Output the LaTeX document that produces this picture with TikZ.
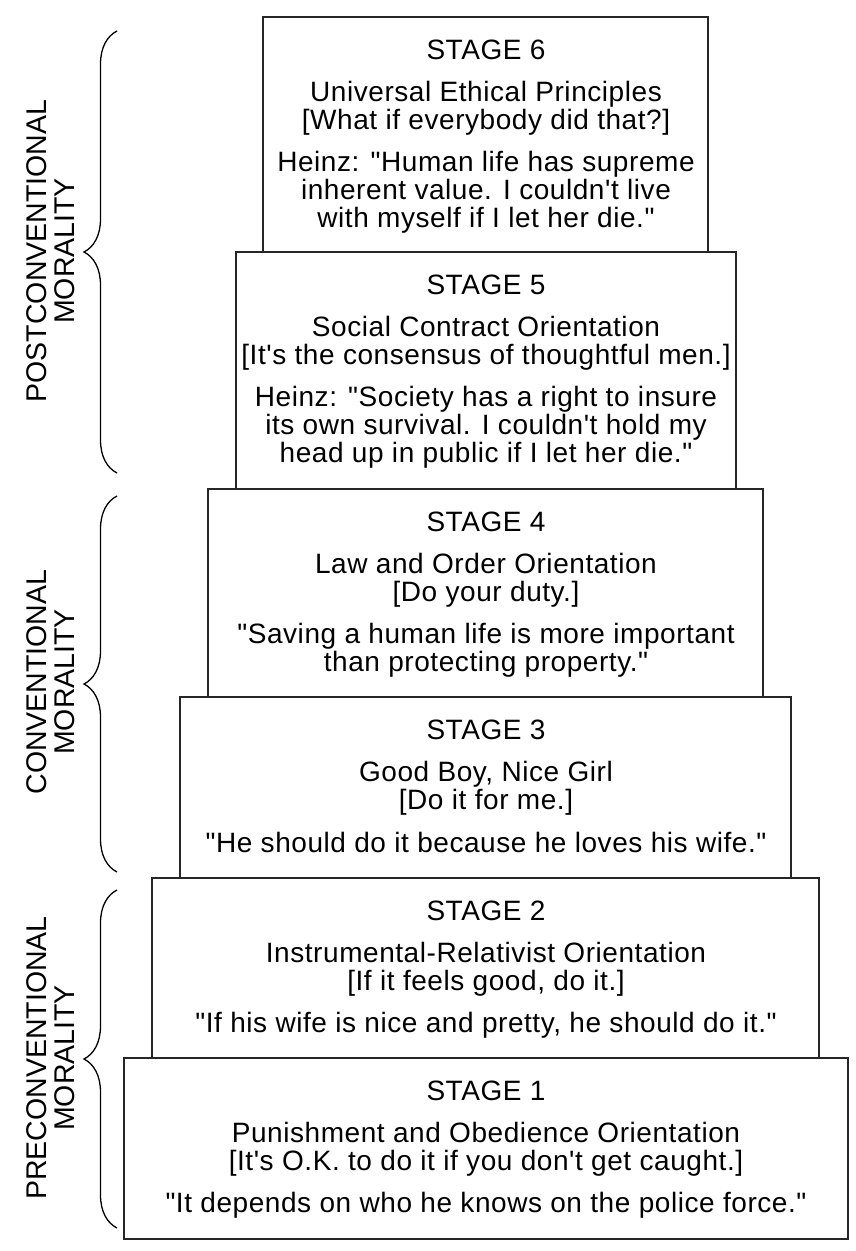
\documentclass[tikz,border=0pt]{standalone}
\usepackage{fontspec}
\newfontfamily\lsf{Liberation Sans}
\newfontfamily\lsfw{Liberation Sans}[LetterSpace=2]
\usetikzlibrary{decorations.pathreplacing}
\begin{document}
\begin{tikzpicture}[x=1pt,y=-1pt,
  stagebox/.style={draw=black!85, line width=2pt, inner sep=0pt, outer sep=0pt, anchor=north west},
  ln/.style={font=\lsfw\fontsize{28}{28}\selectfont, anchor=base, inner sep=0pt},
  lab/.style={font=\lsf\fontsize{28.5}{28}\selectfont, align=center, rotate=90, inner sep=0pt},
  br/.style={decorate, decoration={brace, amplitude=33pt, aspect=0.5}, line width=1.3pt}]
\useasboundingbox[fill=white] (0,0) rectangle (855,1251);

% boxes
\node[stagebox, minimum width=445pt, minimum height=235pt] (s6) at (263,17) {};
\node[stagebox, minimum width=500pt, minimum height=237pt] (s5) at (236,252) {};
\node[stagebox, minimum width=555pt, minimum height=208pt] (s4) at (208,489) {};
\node[stagebox, minimum width=611pt, minimum height=181pt] (s3) at (180,697) {};
\node[stagebox, minimum width=667pt, minimum height=180pt] (s2) at (152,878) {};
\node[stagebox, minimum width=724pt, minimum height=181pt] (s1) at (124,1058) {};

% stage 6
\node[ln] (s6a) at (486,59) {STAGE 6};
\node[ln] (s6b) at (486,101) {Universal Ethical Principles};
\node[ln] (s6c) at (486,129) {[What if everybody did that?]};
\node[ln] (s6d) at (486,171) {Heinz: "Human life has supreme};
\node[ln] (s6e) at (486,199) {inherent value. I couldn't live};
\node[ln] (s6f) at (486,227) {with myself if I let her die."};
% stage 5
\node[ln] (s5a) at (486,294) {STAGE 5};
\node[ln] (s5b) at (486,336) {Social Contract Orientation};
\node[ln] (s5c) at (486,364) {[It's the consensus of thoughtful men.]};
\node[ln] (s5d) at (486,406) {Heinz: "Society has a right to insure};
\node[ln] (s5e) at (486,434) {its own survival. I couldn't hold my};
\node[ln] (s5f) at (486,462) {head up in public if I let her die."};
% stage 4
\node[ln] (s4a) at (486,531) {STAGE 4};
\node[ln] (s4b) at (486,573) {Law and Order Orientation};
\node[ln] (s4c) at (486,601) {[Do your duty.]};
\node[ln] (s4d) at (486,643) {"Saving a human life is more important};
\node[ln] (s4e) at (486,671) {than protecting property."};
% stage 3
\node[ln] (s3a) at (486,739) {STAGE 3};
\node[ln] (s3b) at (486,781) {Good Boy, Nice Girl};
\node[ln] (s3c) at (486,809) {[Do it for me.]};
\node[ln] (s3d) at (486,852) {"He should do it because he loves his wife."};
% stage 2
\node[ln] (s2a) at (486,920) {STAGE 2};
\node[ln] (s2b) at (486,962) {Instrumental-Relativist Orientation};
\node[ln] (s2c) at (486,990) {[If it feels good, do it.]};
\node[ln] (s2d) at (486,1032) {"If his wife is nice and pretty, he should do it."};
% stage 1
\node[ln] (s1a) at (486,1100) {STAGE 1};
\node[ln] (s1b) at (486,1142) {Punishment and Obedience Orientation};
\node[ln] (s1c) at (486,1170) {[It's O.K. to do it if you don't get caught.]};
\node[ln] (s1d) at (486,1212) {"It depends on who he knows on the police force."};

% braces
\coordinate (pb) at (117,473);
\coordinate (pt) at (117,31);
\coordinate (cb) at (117,872);
\coordinate (ct) at (117,496);
\coordinate (rb) at (117,1228);
\coordinate (rt) at (117,890);
\draw[br] (pb) -- (pt);
\draw[br] (cb) -- (ct);
\draw[br] (rb) -- (rt);

% labels
\node[lab] (lpost) at (51,251) {POSTCONVENTIONAL\\MORALITY};
\node[lab] (lconv) at (51,682) {CONVENTIONAL\\MORALITY};
\node[lab] (lpre) at (51,1058) {PRECONVENTIONAL\\MORALITY};
\end{tikzpicture}
\end{document}
